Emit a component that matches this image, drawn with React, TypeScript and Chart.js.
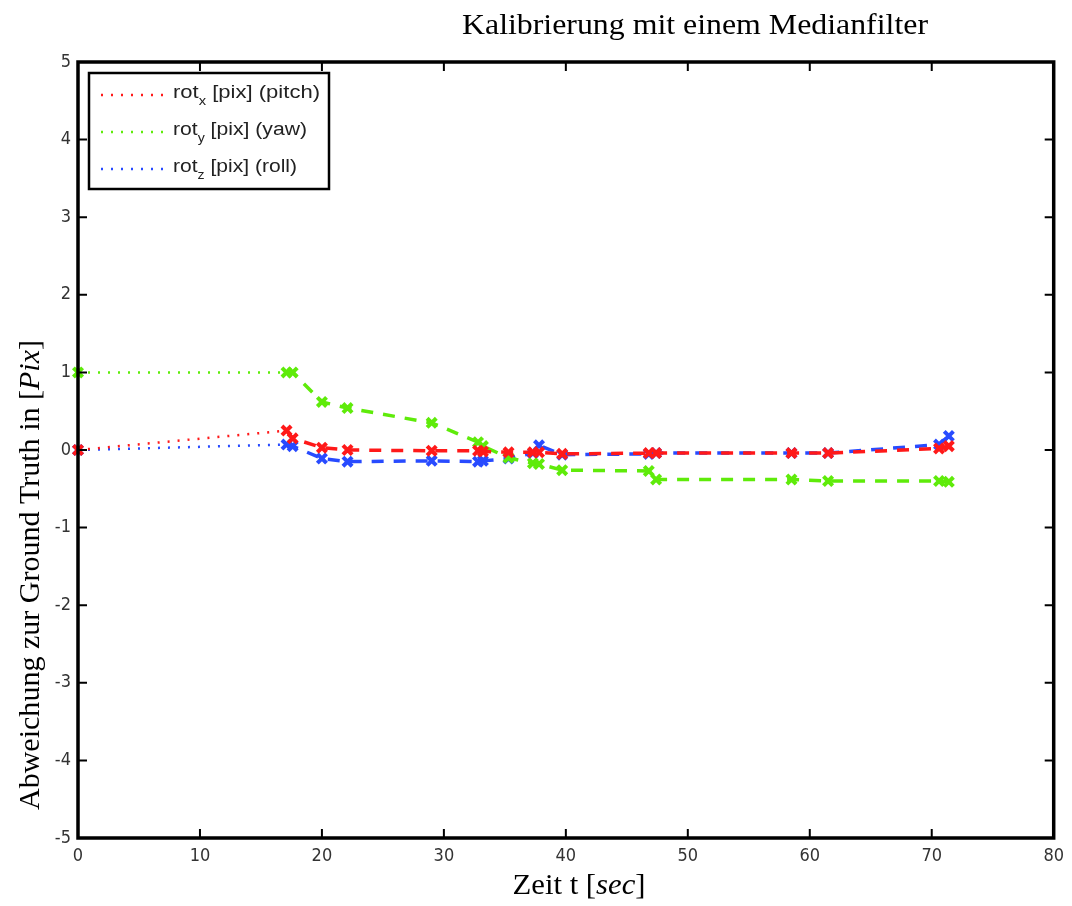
import React, { useEffect, useRef } from 'react';
import { Chart, registerables } from 'chart.js';

Chart.register(...registerables);

// ---- data ----
const timeSec = [0, 17.1, 17.6, 20.0, 22.1, 29.0, 32.8, 33.2, 35.3, 37.3, 37.8, 39.7, 46.8, 47.4, 58.5, 61.5, 70.6, 71.4];
const pitchPix = [0, 0.25, 0.15, 0.03, 0.0, -0.01, -0.01, -0.02, -0.03, -0.03, -0.03, -0.05, -0.04, -0.04, -0.04, -0.04, 0.02, 0.05];
const yawPix = [1.0, 1.0, 1.0, 0.62, 0.54, 0.35, 0.1, 0.05, -0.1, -0.17, -0.18, -0.26, -0.27, -0.38, -0.38, -0.40, -0.40, -0.41];
const rollPix = [0, 0.07, 0.05, -0.11, -0.15, -0.14, -0.15, -0.14, -0.11, -0.04, 0.06, -0.06, -0.05, -0.04, -0.04, -0.04, 0.07, 0.18];

const xTickValues = [0, 10, 20, 30, 40, 50, 60, 70, 80];
const yTickValues = [-5, -4, -3, -2, -1, 0, 1, 2, 3, 4, 5];

const seriesBase = ['rot', 'rot', 'rot'];
const seriesSub = ['x', 'y', 'z'];
const seriesRest = [' [pix] (pitch)', ' [pix] (yaw)', ' [pix] (roll)'];
const seriesColors = ['rgb(255,25,25)', 'rgb(95,235,10)', 'rgb(40,75,255)'];

const titleText = 'Kalibrierung mit einem Medianfilter';

const SERIF = '"Liberation Serif", "DejaVu Serif", serif';
const SANS = '"Liberation Sans", Arial, sans-serif';
const TICK_FONT = '"DejaVu Sans Condensed", "Liberation Sans Narrow", "Liberation Sans", sans-serif';

function toPoints(ys: number[]) {
  return timeSec.map((t, i) => ({ x: t, y: ys[i] }));
}

type Part = { t: string; font: string; dy?: number };

// draw a run of text parts centred at (cx, cy), horizontally fitted to targetW
function drawRun(ctx: CanvasRenderingContext2D, parts: Part[], cx: number, cy: number, targetW: number, alignLeft = false) {
  let total = 0;
  const widths = parts.map((p) => {
    ctx.font = p.font;
    const w = ctx.measureText(p.t).width;
    total += w;
    return w;
  });
  const f = targetW / total;
  ctx.save();
  ctx.translate(cx, cy);
  ctx.scale(f, 1);
  ctx.textAlign = 'left';
  ctx.textBaseline = 'alphabetic';
  let x = alignLeft ? 0 : -total / 2;
  parts.forEach((p, i) => {
    ctx.font = p.font;
    ctx.fillText(p.t, x, p.dy || 0);
    x += widths[i];
  });
  ctx.restore();
}

const decorPlugin = {
  id: 'decor',
  afterDraw(chart: any) {
    const { ctx, chartArea } = chart;
    const { left, right, top, bottom } = chartArea;
    const xs = chart.scales.x;
    const ys = chart.scales.y;
    ctx.save();
    // frame
    ctx.strokeStyle = '#000';
    ctx.lineWidth = 3.5;
    ctx.strokeRect(left, top, right - left, bottom - top);
    // inward ticks
    ctx.lineWidth = 2;
    ctx.beginPath();
    xTickValues.forEach((v) => {
      const px = xs.getPixelForValue(v);
      ctx.moveTo(px, bottom);
      ctx.lineTo(px, bottom - 9);
      ctx.moveTo(px, top);
      ctx.lineTo(px, top + 9);
    });
    yTickValues.forEach((v) => {
      const py = ys.getPixelForValue(v);
      ctx.moveTo(left, py);
      ctx.lineTo(left + 9, py);
      ctx.moveTo(right, py);
      ctx.lineTo(right - 9, py);
    });
    ctx.stroke();

    ctx.fillStyle = '#000';
    // title
    drawRun(ctx, [{ t: titleText, font: `30px ${SERIF}` }], 695, 34, 466);

    // x axis label
    drawRun(
      ctx,
      [
        { t: 'Zeit t ', font: `30px ${SERIF}` },
        { t: '[', font: `30px ${SERIF}` },
        { t: 'sec', font: `italic 30px ${SERIF}` },
        { t: ']', font: `30px ${SERIF}` },
      ],
      579,
      894,
      133
    );
    // y axis label
    ctx.save();
    ctx.translate(39, 575);
    ctx.rotate(-Math.PI / 2);
    drawRun(
      ctx,
      [
        { t: 'Abweichung zur Ground Truth in ', font: `30px ${SERIF}` },
        { t: '[', font: `30px ${SERIF}` },
        { t: 'Pix', font: `italic 30px ${SERIF}` },
        { t: ']', font: `30px ${SERIF}` },
      ],
      0,
      0,
      470
    );
    ctx.restore();

    // legend
    const lx = 89, ly = 73, lw = 240, lh = 116;
    ctx.fillStyle = '#fff';
    ctx.fillRect(lx, ly, lw, lh);
    ctx.strokeStyle = '#000';
    ctx.lineWidth = 2.5;
    ctx.strokeRect(lx, ly, lw, lh);
    const rowsY = [94, 131, 168];
    const rowW = [147, 134, 124];
    rowsY.forEach((ry, i) => {
      ctx.strokeStyle = seriesColors[i];
      ctx.lineWidth = 2.5;
      ctx.setLineDash([2, 8]);
      ctx.beginPath();
      ctx.moveTo(101, ry + 1);
      ctx.lineTo(166, ry + 1);
      ctx.stroke();
      ctx.setLineDash([]);
      ctx.fillStyle = '#222';
      drawRun(
        ctx,
        [
          { t: seriesBase[i], font: `18px ${SANS}` },
          { t: seriesSub[i], font: `12px ${SANS}`, dy: 7 },
          { t: seriesRest[i], font: `18px ${SANS}` },
        ],
        173,
        ry + 4,
        rowW[i],
        true
      );
    });
    ctx.restore();
  },
};

export default function App() {
  const canvasRef = useRef<HTMLCanvasElement>(null);

  useEffect(() => {
    if (!canvasRef.current) return;
    const mkDataset = (label: string, ys: number[], color: string) => ({
      label,
      data: toPoints(ys),
      borderColor: color,
      backgroundColor: color,
      borderWidth: 3.5,
      borderDash: [12, 10],
      pointStyle: 'crossRot' as const,
      pointRadius: 6.5,
      pointBorderWidth: 4,
      pointBorderColor: color,
      fill: false,
      tension: 0,
      clip: false as any,
      segment: {
        borderDash: (c: any) => (c.p0DataIndex === 0 ? [2, 8] : [12, 10]),
        borderWidth: (c: any) => (c.p0DataIndex === 0 ? 2.5 : 3.5),
      },
    });
    const chart = new Chart(canvasRef.current, {
      type: 'line',
      data: {
        datasets: [
          mkDataset('rotx [pix] (pitch)', pitchPix, seriesColors[0]),
          mkDataset('roty [pix] (yaw)', yawPix, seriesColors[1]),
          mkDataset('rotz [pix] (roll)', rollPix, seriesColors[2]),
        ],
      },
      options: {
        animation: false,
        responsive: true,
        maintainAspectRatio: false,
        layout: { padding: { left: 0, top: 62, right: 17, bottom: 0 } },
        plugins: {
          legend: { display: false },
          title: { display: false },
          tooltip: { enabled: false },
        },
        scales: {
          x: {
            type: 'linear',
            min: 0,
            max: 80,
            grid: { display: false, drawTicks: false },
            border: { display: false },
            afterFit: (s: any) => {
              s.height = 68;
            },
            afterBuildTicks: (s: any) => {
              s.ticks = xTickValues.map((v) => ({ value: v }));
            },
            ticks: {
              padding: 8,
              color: '#333',
              font: { family: TICK_FONT, size: 18 },
            },
          },
          y: {
            type: 'linear',
            min: -5,
            max: 5,
            grid: { display: false, drawTicks: false },
            border: { display: false },
            afterFit: (s: any) => {
              s.width = 78;
            },
            afterBuildTicks: (s: any) => {
              s.ticks = yTickValues.map((v) => ({ value: v }));
            },
            ticks: {
              padding: 7,
              color: '#333',
              font: { family: TICK_FONT, size: 18 },
            },
          },
        },
      },
      plugins: [decorPlugin],
    });
    return () => chart.destroy();
  }, []);

  return (
    <div style={{ position: 'absolute', left: 0, top: 0, width: 1072, height: 906, background: '#fff' }}>
      <canvas ref={canvasRef} />
    </div>
  );
}
